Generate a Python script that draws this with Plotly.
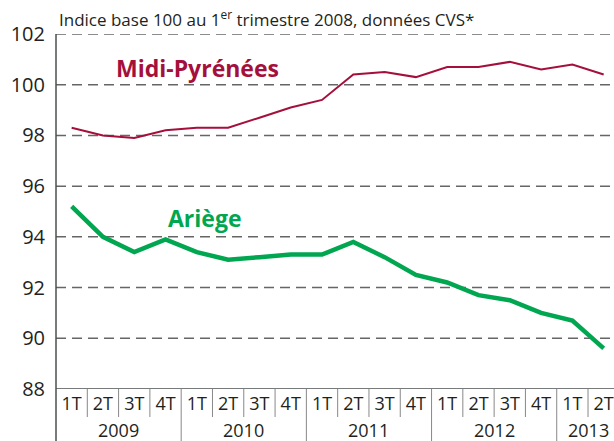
import plotly.graph_objects as go

quarters = ["1T", "2T", "3T", "4T"] * 4 + ["1T", "2T"]
years = ["2009", "2010", "2011", "2012", "2013"]
year_counts = [4, 4, 4, 4, 2]
midi_pyrenees = [98.3, 98.0, 97.9, 98.2, 98.3, 98.3, 98.7, 99.1, 99.4,
                 100.4, 100.5, 100.3, 100.7, 100.7, 100.9, 100.6, 100.8, 100.4]
ariege = [95.2, 94.0, 93.4, 93.9, 93.4, 93.1, 93.2, 93.3, 93.3,
          93.8, 93.2, 92.5, 92.2, 91.7, 91.5, 91.0, 90.7, 89.6]
y_ticks = [88, 90, 92, 94, 96, 98, 100, 102]

RED = "#A50F3C"
GREEN = "#00A650"
AXIS = "#4a4f50"
TXT = "#231f20"
FONT = "Open Sans"

x = list(range(len(quarters)))

W, H = 614, 441
L, T, B = 56, 34, 52
PW, PH = W - L, H - T - B


def px_x(p):
    return (p - L) / PW


def px_y(p):
    return 1 - (p - T) / PH


fig = go.Figure()
fig.add_trace(go.Scatter(x=x, y=midi_pyrenees, mode="lines",
                         line=dict(color=RED, width=2), hoverinfo="skip"))
fig.add_trace(go.Scatter(x=x, y=ariege, mode="lines",
                         line=dict(color=GREEN, width=4.5), hoverinfo="skip"))

fig.update_layout(
    template="none",
    width=W, height=H,
    margin=dict(l=L, r=0, t=T, b=B, pad=0),
    paper_bgcolor="white", plot_bgcolor="white",
    showlegend=False,
    font=dict(family=FONT, color=TXT),
)
fig.update_xaxes(
    range=[-0.5, 17.33], tickvals=x, ticktext=quarters,
    showgrid=False, zeroline=False, showline=False, automargin=False,
    ticks="", ticklabelstandoff=2, tickfont=dict(size=18, family=FONT, color=TXT),
)
fig.update_yaxes(
    range=[88, 102], tickvals=y_ticks, ticktext=[str(v) for v in y_ticks],
    showgrid=False, zeroline=False, showline=False, automargin=False,
    ticks="", ticklabelstandoff=10, tickfont=dict(size=20, family=FONT, color=TXT),
)

# dashed gridlines
for v in y_ticks[1:]:
    fig.add_shape(type="line", xref="paper", yref="y", x0=0, x1=1, y0=v, y1=v,
                  line=dict(color="#666", width=1.5, dash="10px,6px"), layer="below")

# axis lines
fig.add_shape(type="line", xref="paper", yref="y", x0=0, x1=1, y0=88, y1=88,
              line=dict(color=AXIS, width=1.5))
fig.add_shape(type="line", xref="paper", yref="paper", x0=0, x1=0, y0=-B / PH, y1=1,
              line=dict(color=AXIS, width=1.5))

# separators and year labels
pos = -0.5
for i, n in enumerate(year_counts):
    for k in range(1, n):
        xs = pos + k
        fig.add_shape(type="line", xref="x", yref="paper", x0=xs, x1=xs,
                      y0=0, y1=-28 / PH, line=dict(color="#888", width=1))
    center = pos + n / 2
    fig.add_annotation(x=center, xref="x", y=px_y(429.5), yref="paper",
                       text=years[i], showarrow=False,
                       font=dict(size=18, family=FONT, color=TXT),
                       yanchor="middle")
    pos += n
    if pos < 17.5:
        fig.add_shape(type="line", xref="x", yref="paper", x0=pos, x1=pos,
                      y0=0, y1=-B / PH, line=dict(color="#888", width=1))

fig.add_annotation(x=px_x(57), xref="paper", y=px_y(18), yref="paper",
                   text="Indice base 100 au 1<sup>er</sup> trimestre 2008, données CVS*",
                   showarrow=False, xanchor="left", yanchor="middle",
                   font=dict(size=17, family=FONT, color=TXT))
fig.add_annotation(x=px_x(197), xref="paper", y=px_y(68), yref="paper",
                   text="<b>Midi-Pyrénées</b>", showarrow=False,
                   xanchor="center", yanchor="middle",
                   font=dict(size=23, family=FONT, color=RED))
fig.add_annotation(x=px_x(205), xref="paper", y=px_y(218), yref="paper",
                   text="<b>Ariège</b>", showarrow=False,
                   xanchor="center", yanchor="middle",
                   font=dict(size=23, family=FONT, color=GREEN))

fig.write_html("out.html", config={"displayModeBar": False},
               post_script="document.body.style.margin='0';document.body.style.overflow='hidden';")
